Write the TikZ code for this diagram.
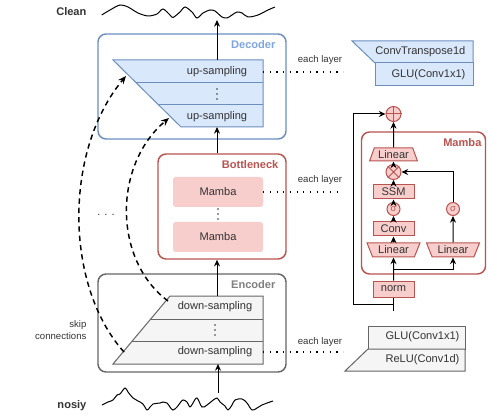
\documentclass[tikz,border=0pt]{standalone}
\usepackage{fontspec}
\setmainfont{Liberation Sans}
\usetikzlibrary{arrows.meta,shapes.geometric}
\definecolor{bluefill}{HTML}{DAE8FC}
\definecolor{bluedraw}{HTML}{6C8EBF}
\definecolor{bluetext}{HTML}{7EA6E0}
\definecolor{redfill}{HTML}{F8CECC}
\definecolor{reddraw}{HTML}{B85450}
\definecolor{grayfill}{HTML}{F5F5F5}
\definecolor{graydraw}{HTML}{666666}
\definecolor{graytext}{HTML}{808080}
\definecolor{txt}{HTML}{333333}
\tikzset{
  main/.style={font=\fontsize{8.3}{10}\selectfont, text=txt, inner sep=1pt},
  small/.style={font=\fontsize{7.2}{8.6}\selectfont, text=txt, inner sep=1pt},
  title/.style={font=\fontsize{8.3}{10}\selectfont\bfseries, text=txt, inner sep=1pt},
  stage/.style={draw=#1, fill=white, rounded corners=6pt, line width=1.1pt},
  upfill/.style={fill=bluefill, draw=bluedraw, line width=0.75pt},
  downfill/.style={fill=grayfill, draw=graydraw, line width=0.75pt},
  mambablock/.style={main, fill=redfill, rounded corners=2pt, minimum width=67.5pt, minimum height=22.5pt},
  op/.style={main, draw=reddraw, fill=redfill, line width=0.75pt, minimum width=30.75pt, minimum height=10.5pt, inner sep=0pt},
  lin/.style={op, trapezium, trapezium stretches=true, trapezium left angle=63, trapezium right angle=63, minimum width=39.75pt},
  junction/.style={circle, draw=reddraw, fill=redfill, line width=0.75pt, minimum size=11.25pt, inner sep=0pt},
  gate/.style={circle, draw=reddraw, fill=redfill, line width=0.75pt, minimum size=9.75pt, inner sep=0pt, text=reddraw, font=\fontsize{7}{7}\selectfont},
  flow/.style={-{Stealth[length=5pt,width=4.5pt]}, line width=0.75pt},
  wire/.style={line width=0.75pt},
  skip/.style={-{Stealth[length=6pt,width=5pt]}, line width=1.1pt, dash pattern=on 4pt off 3pt},
  layerdots/.style={line width=0.9pt, dash pattern=on 0.9pt off 4.1pt},
  wave/.style={line width=0.75pt},
}
\begin{document}
\begin{tikzpicture}[x=0.75pt,y=-0.75pt]
  \useasboundingbox (0,0) rectangle (488,416);

  % signals
  \node[title, anchor=east] (clean) at (88,12) {Clean};
  \node[title, anchor=east] (noisy) at (88,406) {nosiy};
  \draw[wave] plot[smooth] coordinates {(101.7,15) (110,10) (120,5) (128,7) (138,13) (148,16) (157,14) (163,9) (170,15) (173,17.5) (180,12) (185,7) (192,12) (197,18) (203,13) (210,10) (215,11) (222,17) (227,18) (232,15) (237,12) (242,13) (248,17) (258,15) (268,10) (275,7)};
  \draw[wave] plot[smooth, tension=0.6] coordinates {(102,405) (108,402) (113,400) (117,395) (120,394) (125,388) (128,392) (133,398) (138,401) (143,404) (147,410) (150,407) (153,404) (160,403) (163,402) (167,403) (170,407) (173,410) (177,407) (180,403) (183,400) (187,402) (190,407) (193,403) (197,398) (202,407) (207,405) (212,401) (217,398) (220,402) (225,406) (228,410) (232,405) (235,400) (242,399) (247,403) (252,410) (257,408) (262,405) (267,403) (273,401)};
  \coordinate (cleanw) at (217,20);
  \coordinate (noisyw) at (218,393);

  % decoder
  \node[stage=bluedraw, minimum width=141pt, minimum height=78.75pt] (dec) at (192,86.5) {};
  \node[title, text=bluetext, anchor=east] (declabel) at (277,45) {Decoder};
  \filldraw[upfill] (113,60) -- (263,60) -- (263,127) -- (181,127) -- cycle;
  \draw[upfill] (136.3,83) -- (263,83);
  \draw[upfill] (158.7,105) -- (263,105);
  \node[main] (up1) at (217,72) {up-sampling};
  \node[main] (up2) at (217,117) {up-sampling};
  \coordinate (upin) at (217,127);
  \coordinate (upout) at (217,60);

  % bottleneck
  \node[stage=reddraw, minimum width=96pt, minimum height=78.75pt] (bneck) at (222,206.5) {};
  \node[title, text=reddraw, anchor=east] (bnlabel) at (280,165) {Bottleneck};
  \node[mambablock] (mamba1) at (218,192) {Mamba};
  \node[mambablock] (mamba2) at (218,237) {Mamba};

  % encoder
  \node[stage=graydraw, minimum width=141pt, minimum height=73.5pt] (enc) at (192,323) {};
  \node[title, text=graytext, anchor=east] (enclabel) at (277,285) {Encoder};
  \filldraw[downfill] (170,296) -- (263,296) -- (263,364) -- (113,364) -- cycle;
  \draw[downfill] (150.7,319) -- (263,319);
  \draw[downfill] (132.3,341) -- (263,341);
  \node[main] (down1) at (215,307) {down-sampling};
  \node[main] (down2) at (215,352) {down-sampling};
  \coordinate (dsin) at (218,364);
  \coordinate (dsout) at (217,296);

  % vertical dots between repeated layers
  \foreach \cx/\cy in {217/94, 218/214, 215/330}
    \foreach \dy in {-5,0,5}
      \fill[txt] (\cx,\cy+\dy) circle (0.6pt);

  % main path
  \draw[flow] (noisyw) -- (dsin);
  \draw[flow] (dsout) -- (dsout |- bneck.south);
  \draw[flow] (dsout |- bneck.north) -- (upin);
  \draw[flow] (upout) -- (cleanw);

  % skip connections
  \coordinate (outerstart) at (124,352);
  \coordinate (outerend) at (126,76);
  \coordinate (innerstart) at (168,301);
  \coordinate (innerend) at (169,118);
  \draw[skip] (outerstart) .. controls (64,285) and (64,150) .. (outerend);
  \draw[skip] (innerstart) .. controls (113,260) and (113,165) .. (innerend);
  \node[main] (skipdots) at (106,215) {.\hspace{3pt}.\hspace{3pt}.};
  \node[small, align=right, anchor=east] (skiplabel) at (88,330) {skip\\connections};

  % each layer
  \coordinate (declayer) at (343,72);
  \coordinate (bnlayer) at (343,192);
  \coordinate (enclayer) at (343,352);
  \draw[layerdots] (263,72) -- (declayer);
  \draw[layerdots] (mamba1.east) -- (bnlayer);
  \draw[layerdots] (263,352) -- (enclayer);
  \node[small] (dectxt) at (320,60) {each layer};
  \node[small] (bntxt) at (320,180) {each layer};
  \node[small] (enctxt) at (320,342) {each layer};

  % decoder layer
  \filldraw[upfill] (352,41) -- (473,41) -- (473,63) -- (375,63) -- cycle;
  \filldraw[upfill] (375,63) rectangle (473,86);
  \node[main, anchor=east] (convt) at (467,52) {ConvTranspose1d};
  \node[main, anchor=east] (decglu) at (467,75) {GLU(Conv1x1)};

  % encoder layer
  \filldraw[downfill] (368,326) rectangle (465,349);
  \filldraw[downfill] (368,349) -- (465,349) -- (465,371) -- (345,371) -- cycle;
  \node[main, anchor=east] (encglu) at (461,337) {GLU(Conv1x1)};
  \node[main, anchor=east] (relu) at (461,360) {ReLU(Conv1d)};

  % mamba block
  \node[stage=reddraw, minimum width=93pt, minimum height=106.5pt] (mambaframe) at (423.5,203) {};
  \node[title, text=reddraw, anchor=east] (mambalabel) at (483,143) {Mamba};
  \node[junction] (plus) at (393.5,114) {};
  \draw[reddraw, line width=0.75pt] (plus.north) -- (plus.south) (plus.west) -- (plus.east);
  \node[lin, trapezium left angle=65, trapezium right angle=65, minimum width=36pt, minimum height=9.75pt] (lintop) at (393.5,154.5) {Linear};
  \node[junction] (otimes) at (393.5,172) {};
  \draw[reddraw, line width=0.75pt] (otimes.north east) -- (otimes.south west) (otimes.north west) -- (otimes.south east);
  \node[op] (ssm) at (393.5,192) {SSM};
  \node[gate] (sig1) at (393.5,209) {σ};
  \node[op] (conv) at (393.5,229) {Conv};
  \node[lin, shape border rotate=180] (linl) at (393.5,250) {Linear};
  \node[lin, shape border rotate=180] (linr) at (453,250) {Linear};
  \node[gate] (sig2) at (453,209) {σ};
  \node[op, minimum height=12pt] (norm) at (393.5,289) {norm};
  \coordinate (xin) at (393.5,311);
  \coordinate (resj) at (393.5,304);
  \coordinate (resl) at (353,304);
  \coordinate (branch) at (393.5,269);

  \draw[wire] (xin) -- (norm);
  \draw[flow] (resj) -- (resl) |- (plus);
  \draw[flow] (norm) -- (linl);
  \draw[flow] (branch) -| (linr);
  \draw[flow] (linl) -- (conv);
  \draw[flow] (conv) -- (sig1);
  \draw[flow] (sig1) -- (ssm);
  \draw[flow] (ssm) -- (otimes);
  \draw[flow] (otimes) -- (lintop);
  \draw[flow] (lintop) -- (plus);
  \draw[flow] (linr) -- (sig2);
  \draw[flow] (sig2) |- (otimes);
\end{tikzpicture}
\end{document}
